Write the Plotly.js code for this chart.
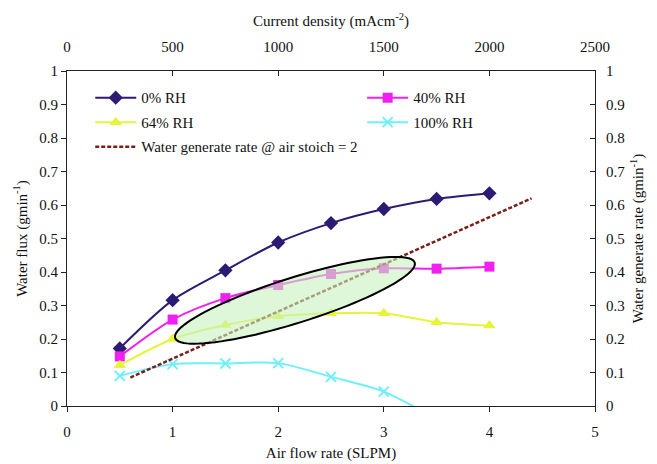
<!DOCTYPE html>
<html><head><meta charset="utf-8">
<script src="https://cdn.plot.ly/plotly-3.0.1.min.js"></script>
<style>html,body{margin:0;padding:0;background:#fff}</style>
</head><body><div id="chart" style="width:657px;height:464px"></div>
<script>
// Bottom axis: air flow rate (SLPM)
const airFlow = [0.5, 1, 1.5, 2, 2.5, 3, 3.5, 4];
const rh0 = [0.172, 0.316, 0.405, 0.488, 0.546, 0.588, 0.618, 0.635];
const rh40 = [0.148, 0.258, 0.322, 0.361, 0.394, 0.411, 0.410, 0.416];
const rh64 = [0.122, 0.200, 0.242, 0.268, 0.277, 0.277, 0.250, 0.240];
const airFlow100 = [0.5, 1, 1.5, 2, 2.5, 3, 3.5];
const rh100 = [0.090, 0.125, 0.127, 0.128, 0.087, 0.043, -0.040];
// Top axis: current density (mA cm-2), right axis: water generate rate
const currentDensity = [300, 2200];
const waterGenerate = [0.085, 0.620];
// Highlight ellipse (data units): tips of the major axis and minor/major ratio
const ellipseTipA = [1.024, 0.203];
const ellipseTipB = [3.293, 0.428];
const ellipseRatio = 0.18;

const W = 657, H = 464;
const M = {l: 67, r: 62, t: 71, b: 58};
const plotW = W - M.l - M.r, plotH = H - M.t - M.b;
const xRange = [0, 5], yRange = [0, 1];
const sx = plotW / (xRange[1] - xRange[0]);
const sy = plotH / (yRange[1] - yRange[0]);

function ellipsePath(p1, p2, ratio) {
  const ax = p1[0] * sx, ay = p1[1] * sy, bx = p2[0] * sx, by = p2[1] * sy;
  const cx = (ax + bx) / 2, cy = (ay + by) / 2;
  const ux = (bx - ax) / 2, uy = (by - ay) / 2;
  const a = Math.hypot(ux, uy), b = a * ratio;
  const vx = -uy / a * b, vy = ux / a * b;
  let d = '';
  const n = 96;
  for (let i = 0; i <= n; i++) {
    const t = 2 * Math.PI * i / n;
    const px = (cx + Math.cos(t) * ux + Math.sin(t) * vx) / sx;
    const py = (cy + Math.cos(t) * uy + Math.sin(t) * vy) / sy;
    d += (i === 0 ? 'M' : 'L') + px.toFixed(5) + ',' + py.toFixed(5);
  }
  return d + 'Z';
}

const FONT = 'Liberation Serif, Times New Roman, serif';
const cIndigo = '#2d1a72', cMag = '#f020f0', cYel = '#e4f53a', cCyan = '#6ff0f8', cBrown = '#7a1f1a';

const traces = [
  {x: airFlow, y: rh0, name: '0% RH', mode: 'lines+markers', line: {color: cIndigo, width: 2, shape: 'spline', smoothing: 0.8},
   marker: {symbol: 'diamond', size: 11, color: cIndigo}, legend: 'legend', legendgroup: 'a'},
  {x: airFlow, y: rh40, name: '40% RH', mode: 'lines+markers', line: {color: cMag, width: 2, shape: 'spline', smoothing: 0.8},
   marker: {symbol: 'square', size: 10, color: cMag}, legend: 'legend2', legendgroup: 'b'},
  {x: airFlow, y: rh64, name: '64% RH', mode: 'lines+markers', line: {color: cYel, width: 2, shape: 'spline', smoothing: 0.8},
   marker: {symbol: 'triangle-up', size: 11, color: cYel}, legend: 'legend', legendgroup: 'c'},
  {x: airFlow100, y: rh100, name: '100% RH', mode: 'lines+markers', line: {color: cCyan, width: 2, shape: 'spline', smoothing: 0.8},
   marker: {symbol: 'x-thin-open', size: 10, color: cCyan, line: {color: cCyan, width: 2}}, legend: 'legend2', legendgroup: 'd'},
  {x: currentDensity, y: waterGenerate, name: 'Water generate rate @ air stoich = 2', mode: 'lines', xaxis: 'x2', yaxis: 'y2',
   line: {color: cBrown, width: 2.5, dash: '4px,2px'}, legend: 'legend', legendgroup: 'e'}
];

const axisBase = {showline: true, linecolor: '#222', linewidth: 1, showgrid: false, zeroline: false,
  ticklen: 5, tickcolor: '#222', tickfont: {family: FONT, size: 15, color: '#111'}};

const layout = {
  width: W, height: H, margin: M, paper_bgcolor: '#fff', plot_bgcolor: '#fff',
  font: {family: FONT, size: 15, color: '#111'},
  xaxis: Object.assign({}, axisBase, {range: xRange, dtick: 1, tick0: 0, ticks: 'outside', ticklabelstandoff: 7,
    title: {text: 'Air flow rate (SLPM)', font: {family: FONT, size: 15}, standoff: 8}}),
  xaxis2: Object.assign({}, axisBase, {range: [0, 2500], dtick: 500, tick0: 0, ticks: 'inside', overlaying: 'x', side: 'top', ticklabelstandoff: 12,
    title: {text: 'Current density (mAcm<sup>-2</sup>)', font: {family: FONT, size: 15}, standoff: 8}}),
  yaxis: Object.assign({}, axisBase, {range: yRange, dtick: 0.1, tick0: 0, ticks: 'outside',
    title: {text: 'Water flux (gmin<sup>-1</sup>)', font: {family: FONT, size: 15}, standoff: 8}}),
  yaxis2: Object.assign({}, axisBase, {range: yRange, dtick: 0.1, tick0: 0, ticks: 'inside', overlaying: 'y', side: 'right', ticklabelstandoff: 7,
    title: {text: 'Water generate rate (gmin<sup>-1</sup>)', font: {family: FONT, size: 15}, standoff: 8}}),
  showlegend: true,
  legend: {x: 0.044, y: 0.969, xanchor: 'left', yanchor: 'top', bgcolor: 'rgba(0,0,0,0)', borderwidth: 0,
    font: {family: FONT, size: 15, color: '#111'}, itemwidth: 41, tracegroupgap: 2, orientation: 'v'},
  legend2: {x: 0.559, y: 0.969, xanchor: 'left', yanchor: 'top', bgcolor: 'rgba(0,0,0,0)', borderwidth: 0,
    font: {family: FONT, size: 15, color: '#111'}, itemwidth: 41, tracegroupgap: 2, orientation: 'v'},
  shapes: [{type: 'path', xref: 'x', yref: 'y', path: ellipsePath(ellipseTipA, ellipseTipB, ellipseRatio),
    fillcolor: 'rgba(200,242,190,0.6)', line: {color: '#000', width: 2}, layer: 'above'}]
};

Plotly.newPlot('chart', traces, layout, {displayModeBar: false, staticPlot: true});
</script></body></html>
